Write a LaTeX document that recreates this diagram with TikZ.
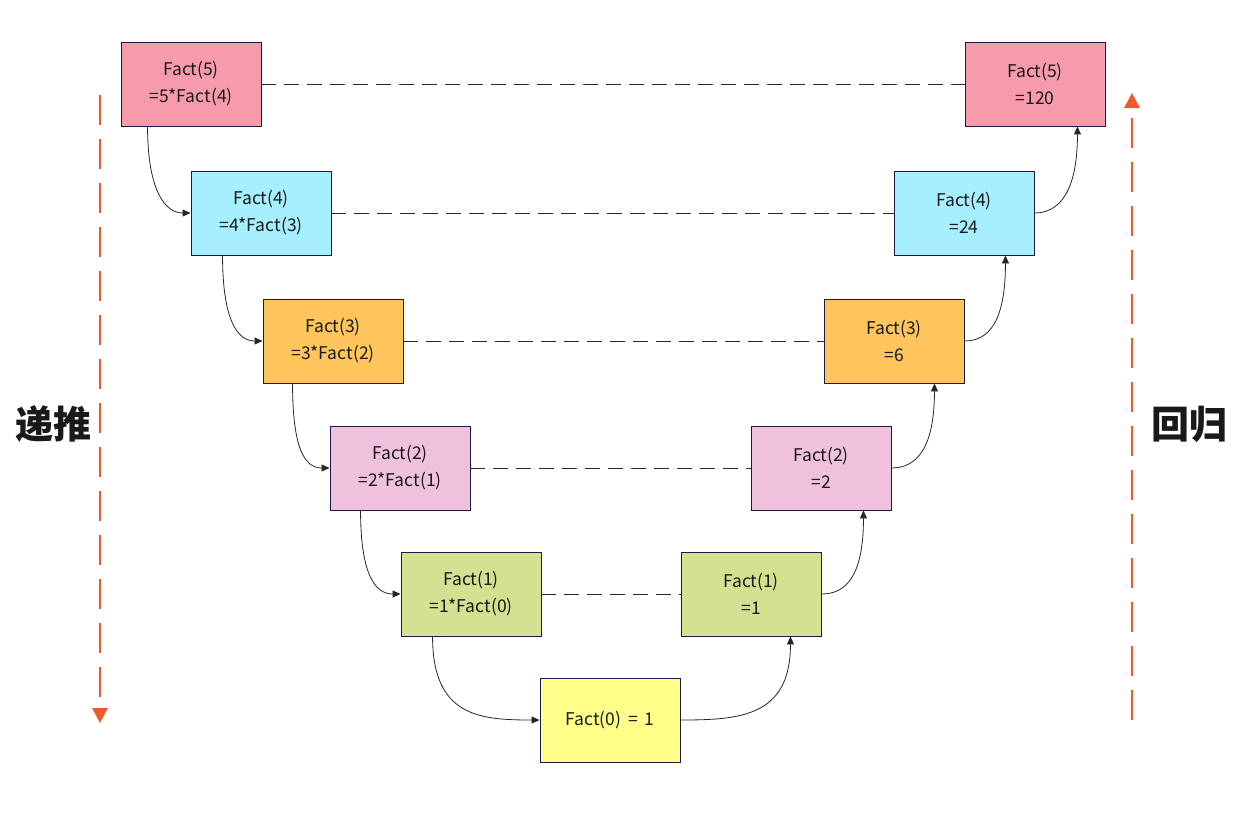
\documentclass[tikz,border=0pt]{standalone}
\usepackage{fontspec}
\setmainfont{Noto Sans CJK SC}
\usetikzlibrary{arrows.meta}
\definecolor{cPink}{HTML}{F79BAC}
\definecolor{cCyan}{HTML}{A6EFFE}
\definecolor{cOrange}{HTML}{FEC55C}
\definecolor{cLPink}{HTML}{F0C1DD}
\definecolor{cGreen}{HTML}{D3E190}
\definecolor{cYellow}{HTML}{FEFE88}
\definecolor{cBorder}{HTML}{1A1A45}
\definecolor{cRed}{HTML}{EE5A2A}
\begin{document}
\begin{tikzpicture}[x=1pt,y=-1pt,
  factbox/.style={draw=cBorder,line width=0.9pt,minimum width=140pt,minimum height=84pt,
    inner sep=0pt,align=center,font=\fontsize{17.5}{27}\selectfont,text=black!90},
  link/.style={draw=black!85,line width=0.8pt,-{Triangle[length=8pt,width=7pt]}},
  dashlink/.style={draw=black!85,line width=0.8pt,dash pattern=on 15pt off 8pt},
  sidearrow/.style={draw=cRed,line width=2.6pt,dash pattern=on 30pt off 14pt},
  sidelabel/.style={font=\fontsize{38}{38}\selectfont\bfseries,text=black!90}]
\useasboundingbox (0,0) rectangle (1244,815);
% left column
\node[factbox,fill=cPink]   (L5) at (191,84)  {Fact(5)\\=5*Fact(4)};
\node[factbox,fill=cCyan]   (L4) at (261,213) {Fact(4)\\=4*Fact(3)};
\node[factbox,fill=cOrange] (L3) at (333,341) {Fact(3)\\=3*Fact(2)};
\node[factbox,fill=cLPink]  (L2) at (400,468) {Fact(2)\\=2*Fact(1)};
\node[factbox,fill=cGreen]  (L1) at (471,594) {Fact(1)\\=1*Fact(0)};
% bottom
\node[factbox,fill=cYellow] (F0) at (610,720) {Fact(0) \,=\, 1};
% right column
\node[factbox,fill=cPink]   (R5) at (1035,84)  {Fact(5)\\=120};
\node[factbox,fill=cCyan]   (R4) at (964,213)  {Fact(4)\\=24};
\node[factbox,fill=cOrange] (R3) at (894,341)  {Fact(3)\\=6};
\node[factbox,fill=cLPink]  (R2) at (821,468)  {Fact(2)\\=2};
\node[factbox,fill=cGreen]  (R1) at (751,594)  {Fact(1)\\=1};
% dashed links
\foreach \i in {1,...,5} {\draw[dashlink] (L\i.east) -- (R\i.west);}
% recursion arrows (left)
\draw[link] ([xshift=27pt]L5.south west) .. controls +(0,65) and +(-25,0) .. (L4.west);
\draw[link] ([xshift=32pt]L4.south west) .. controls +(0,65) and +(-25,0) .. (L3.west);
\draw[link] ([xshift=30pt]L3.south west) .. controls +(0,65) and +(-25,0) .. (L2.west);
\draw[link] ([xshift=31pt]L2.south west) .. controls +(0,65) and +(-25,0) .. (L1.west);
\draw[link] ([xshift=32pt]L1.south west) .. controls +(0,80) and +(-60,0) .. (F0.west);
% return arrows (right)
\draw[link] (F0.east) .. controls +(60,0) and +(0,80) .. ([xshift=-31pt]R1.south east);
\draw[link] (R1.east) .. controls +(25,0) and +(0,65) .. ([xshift=-28pt]R2.south east);
\draw[link] (R2.east) .. controls +(25,0) and +(0,65) .. ([xshift=-30pt]R3.south east);
\draw[link] (R3.east) .. controls +(25,0) and +(0,65) .. ([xshift=-29pt]R4.south east);
\draw[link] (R4.east) .. controls +(25,0) and +(0,65) .. ([xshift=-28pt]R5.south east);
% side arrows
\coordinate (la1) at (100,95);
\coordinate (la2) at (100,708);
\coordinate (ra1) at (1132,720);
\coordinate (ra2) at (1132,108);
\draw[sidearrow] (la1) -- (la2);
\fill[cRed] (92,708) -- (108,708) -- (100,723) -- cycle;
\draw[sidearrow] (ra1) -- (ra2);
\fill[cRed] (1124,108) -- (1140,108) -- (1132,93) -- cycle;
\node[sidelabel] (tl) at (53,424) {递推};
\node[sidelabel] (tr) at (1189,424) {回归};
\end{tikzpicture}
\end{document}
